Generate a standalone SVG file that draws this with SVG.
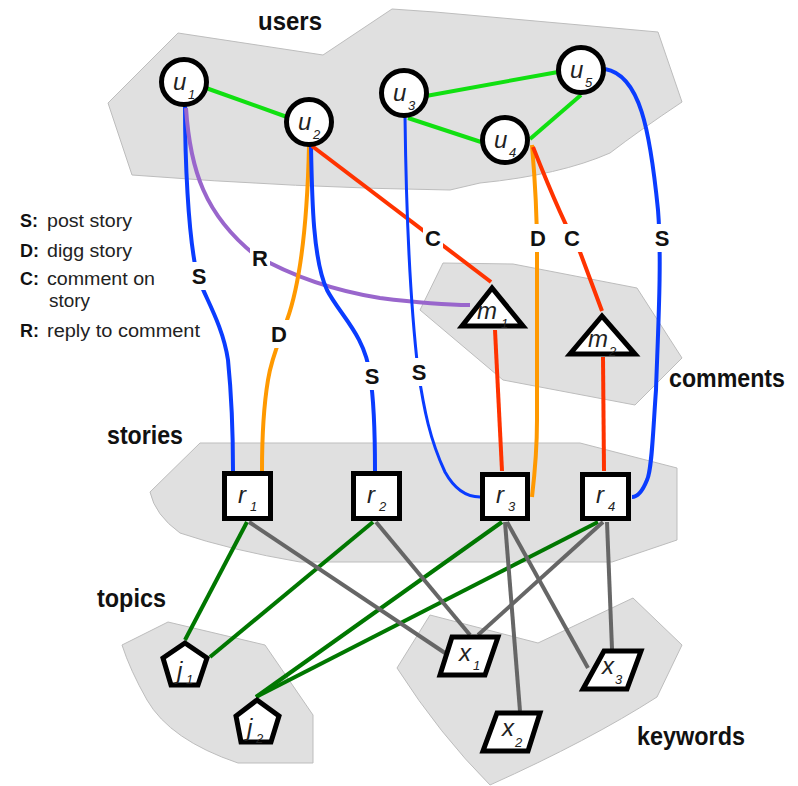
<svg xmlns="http://www.w3.org/2000/svg" width="798" height="786" viewBox="0 0 798 786">
<defs>
<style>
.region{fill:#e0e0e0;stroke:#bdbdbd;stroke-width:1}
.title{font-family:"Liberation Sans",Arial,sans-serif;font-weight:bold;font-size:26px;fill:#111}
.leg{font-family:"Liberation Sans",Arial,sans-serif;font-size:18px;fill:#222}
.legb{font-family:"Liberation Sans",Arial,sans-serif;font-size:18px;font-weight:bold;fill:#111}
.e{fill:none;stroke-width:4;stroke-linecap:butt}
.S{stroke:#0a3cff}
.D{stroke:#ff9900}
.C{stroke:#ff3300}
.R{stroke:#9966cc}
.uu{stroke:#11e011}
.tg{stroke:#007700}
.kw{stroke:#666666}
.lblbg{fill:#ffffff}
.lbl{font-family:"Liberation Sans",Arial,sans-serif;font-weight:bold;font-size:22px;fill:#111;text-anchor:middle}
.nd{fill:#ffffff;stroke:#000;stroke-width:5;stroke-linejoin:miter}
.nt{font-family:"Liberation Sans",Arial,sans-serif;font-style:italic;font-size:24px;fill:#222}
.sub{font-size:13px}
</style>
</defs>
<rect width="798" height="786" fill="#ffffff"/>

<g id="regions">
<path class="region" d="M108,103 L178,33 L323,55 L392,9 L435,12 L658,32 L682,102 Q640,130 610,153 Q560,175 480,183 L450,190 Q300,188 132,175 Z"/>
<polygon class="region" points="443,263 513,264 637,288 682,358 635,405 503,380 420,310"/>
<path class="region" d="M200,443 L580,443 L677,468 L677,540 L612,562 L300,562 Q230,550 180,533 Q155,515 150,492 Z"/>
<path class="region" d="M122,645 L168,622 L265,645 L313,715 L313,763 L238,763 Q170,740 147,700 Q130,670 122,645 Z"/>
<path class="region" d="M397,668 L430,615 L538,643 L633,598 L682,645 L657,697 Q590,740 490,785 Q440,735 397,668 Z"/>
</g>

<g id="titles">
<text class="title" x="258" y="30" textLength="64" lengthAdjust="spacingAndGlyphs">users</text>
<text class="title" x="669" y="387" textLength="116" lengthAdjust="spacingAndGlyphs">comments</text>
<text class="title" x="107" y="444" textLength="76" lengthAdjust="spacingAndGlyphs">stories</text>
<text class="title" x="97" y="607" textLength="69" lengthAdjust="spacingAndGlyphs">topics</text>
<text class="title" x="637" y="745" textLength="108" lengthAdjust="spacingAndGlyphs">keywords</text>
</g>

<g id="legend">
<text class="legb" x="20" y="227">S:</text><text class="leg" x="47" y="227" textLength="85" lengthAdjust="spacingAndGlyphs">post story</text>
<text class="legb" x="20" y="257">D:</text><text class="leg" x="47" y="257" textLength="85" lengthAdjust="spacingAndGlyphs">digg story</text>
<text class="legb" x="20" y="285">C:</text><text class="leg" x="47" y="285" textLength="108" lengthAdjust="spacingAndGlyphs">comment on</text>
<text class="leg" x="49" y="307" textLength="41" lengthAdjust="spacingAndGlyphs">story</text>
<text class="legb" x="20" y="337">R:</text><text class="leg" x="47" y="337" textLength="153" lengthAdjust="spacingAndGlyphs">reply to comment</text>
</g>

<g id="connectors">
<line class="e uu" x1="206" y1="88" x2="287" y2="117"/>
<line class="e uu" x1="426" y1="96" x2="558" y2="72"/>
<line class="e uu" x1="408" y1="118" x2="481" y2="142"/>
<line class="e uu" x1="530" y1="139" x2="581" y2="95"/>

<path class="e S" d="M185,105 C185,160 188,230 196,270 C200,290 222,320 228,360 C232,400 233,440 233,471"/>
<path class="e R" d="M186,108 C190,170 205,215 255,255 C290,275 330,290 380,298 C420,303 450,305 470,305"/>
<path class="e D" d="M309,146 C308,190 305,270 287,320 C280,340 272,355 268,380 C263,410 262,440 262,471"/>
<path class="e S" d="M311,146 C312,200 313,260 327,290 C340,315 365,335 370,375 C374,400 375,440 375,471"/>
<path class="e C" d="M312,146 L491,282"/>
<path class="e S" d="M405,116 C406,200 410,300 418,370 C424,410 430,440 445,472 C455,490 468,497 480,497" style="stroke-width:3"/>
<path class="e D" d="M532,145 C535,180 537,210 537,250 L537,420 C537,450 534,480 532,497"/>
<path class="e C" d="M533,147 C550,190 570,235 580,252 L602,311"/>
<path class="e S" d="M605,69 C640,75 650,130 658,210 C662,260 658,330 656,390 C653,430 652,470 647,480 C643,490 638,497 632,497"/>
<path class="e C" d="M495,330 L502,471"/>
<path class="e C" d="M603,357 L604,471"/>

<line class="e tg" x1="247" y1="522" x2="185" y2="640"/>
<line class="e tg" x1="373" y1="522" x2="210" y2="657"/>
<line class="e tg" x1="502" y1="522" x2="256" y2="697"/>
<line class="e tg" x1="598" y1="522" x2="256" y2="697"/>

<line class="e kw" x1="249" y1="522" x2="445" y2="653"/>
<line class="e kw" x1="376" y1="522" x2="470" y2="635"/>
<line class="e kw" x1="505" y1="522" x2="520" y2="711"/>
<line class="e kw" x1="507" y1="522" x2="588" y2="668"/>
<line class="e kw" x1="603" y1="522" x2="478" y2="635"/>
<line class="e kw" x1="607" y1="522" x2="612" y2="649"/>
</g>

<g id="edge-labels">
<rect class="lblbg" x="189" y="262" width="20" height="28"/><text class="lbl" x="199" y="284">S</text>
<rect class="lblbg" x="250" y="244" width="20" height="28"/><text class="lbl" x="260" y="266">R</text>
<rect class="lblbg" x="269" y="320" width="20" height="28"/><text class="lbl" x="279" y="342">D</text>
<rect class="lblbg" x="362" y="362" width="20" height="28"/><text class="lbl" x="372" y="384">S</text>
<rect class="lblbg" x="409" y="358" width="20" height="28"/><text class="lbl" x="419" y="380">S</text>
<rect class="lblbg" x="423" y="224" width="20" height="28"/><text class="lbl" x="433" y="246">C</text>
<rect class="lblbg" x="528" y="224" width="20" height="28"/><text class="lbl" x="538" y="246">D</text>
<rect class="lblbg" x="562" y="224" width="20" height="28"/><text class="lbl" x="572" y="246">C</text>
<rect class="lblbg" x="652" y="224" width="20" height="28"/><text class="lbl" x="662" y="246">S</text>
</g>

<g id="u1"><circle class="nd" cx="184" cy="82" r="22.5"/><text class="nt" x="173" y="90">u</text><text class="nt sub" x="188" y="99">1</text></g>
<g id="u2"><circle class="nd" cx="309" cy="122" r="22.5"/><text class="nt" x="298" y="130">u</text><text class="nt sub" x="313" y="139">2</text></g>
<g id="u3"><circle class="nd" cx="404" cy="93" r="22.5"/><text class="nt" x="393" y="101">u</text><text class="nt sub" x="408" y="110">3</text></g>
<g id="u4"><circle class="nd" cx="505" cy="140" r="22.5"/><text class="nt" x="494" y="148">u</text><text class="nt sub" x="509" y="157">4</text></g>
<g id="u5"><circle class="nd" cx="581" cy="70" r="22.5"/><text class="nt" x="570" y="78">u</text><text class="nt sub" x="585" y="87">5</text></g>

<g id="m1"><polygon class="nd" points="492,288 462,326 523,326"/><text class="nt" x="477" y="319">m</text><text class="nt sub" x="501" y="328">1</text></g>
<g id="m2"><polygon class="nd" points="602,316 570,354 635,354"/><text class="nt" x="588" y="347">m</text><text class="nt sub" x="609" y="356">2</text></g>

<g id="r1"><rect class="nd" x="224.5" y="473.5" width="46" height="45"/><text class="nt" x="238" y="503">r</text><text class="nt sub" x="250" y="511">1</text></g>
<g id="r2"><rect class="nd" x="353.5" y="473.5" width="46" height="45"/><text class="nt" x="367" y="503">r</text><text class="nt sub" x="379" y="511">2</text></g>
<g id="r3"><rect class="nd" x="482.5" y="474.5" width="45" height="44"/><text class="nt" x="496" y="503">r</text><text class="nt sub" x="508" y="511">3</text></g>
<g id="r4"><rect class="nd" x="582.5" y="474.5" width="46" height="44"/><text class="nt" x="596" y="503">r</text><text class="nt sub" x="608" y="511">4</text></g>

<g id="j1"><polygon class="nd" points="185,643 207,658 198,685 171,685 163,658"/><text class="nt" x="177" y="679">j</text><text class="nt sub" x="186" y="684">1</text></g>
<g id="j2"><polygon class="nd" points="257,700 279,716 271,742 241,742 236,716"/><text class="nt" x="247" y="736">j</text><text class="nt sub" x="256" y="743">2</text></g>

<g id="x1"><polygon class="nd" points="452,637 498,637 485,675 440,675"/><text class="nt" x="459" y="661">x</text><text class="nt sub" x="473" y="670">1</text></g>
<g id="x2"><polygon class="nd" points="497,713 540,713 528,751 483,751"/><text class="nt" x="502" y="736">x</text><text class="nt sub" x="515" y="747">2</text></g>
<g id="x3"><polygon class="nd" points="604,651 641,651 627,689 583,689"/><text class="nt" x="602" y="674">x</text><text class="nt sub" x="615" y="684">3</text></g>
</svg>
